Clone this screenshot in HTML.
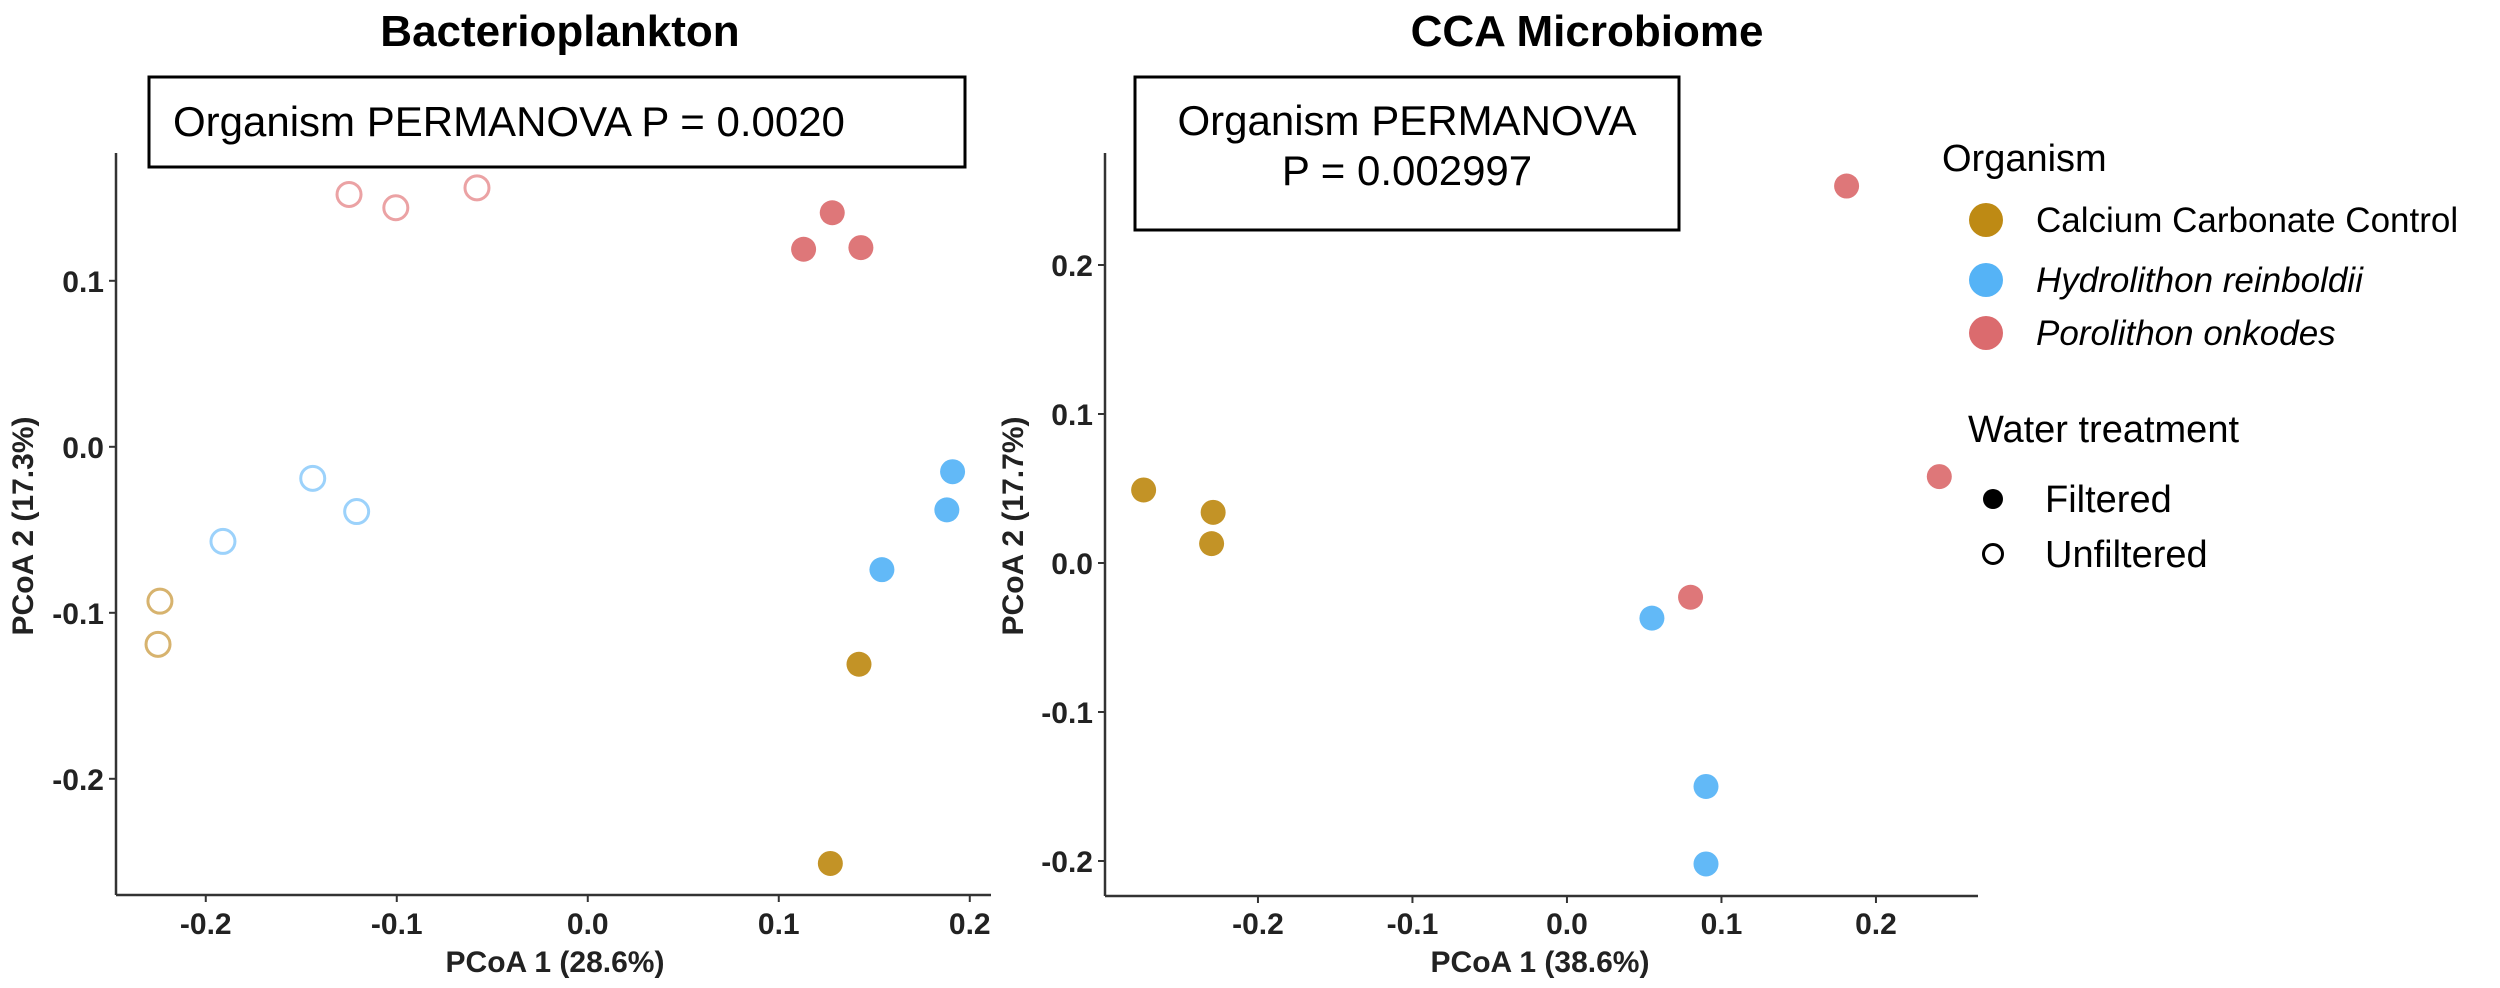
<!DOCTYPE html>
<html><head><meta charset="utf-8"><style>
body{margin:0;background:#fff;}
svg{display:block;font-family:"Liberation Sans",Arial,sans-serif;}
</style></head><body>
<svg id="chart" width="2500" height="988" viewBox="0 0 2500 988"></svg>
<script>
// Bacterioplankton panel data
const bpX = [-0.125,-0.1005,-0.058, 0.113,0.128,0.143, -0.144,-0.121,-0.191, 0.191,0.188,0.154, -0.224,-0.225, 0.142,0.127];
const bpY = [0.152,0.144,0.156, 0.119,0.141,0.120, -0.019,-0.039,-0.057, -0.015,-0.038,-0.074, -0.093,-0.119, -0.131,-0.251];
const bpOrg = ["P","P","P","P","P","P","H","H","H","H","H","H","C","C","C","C"];
const bpFilt = [0,0,0,1,1,1,0,0,0,1,1,1,0,0,1,1];
const bpXTicks = [-0.2,-0.1,0.0,0.1,0.2];
const bpYTicks = [0.1,0.0,-0.1,-0.2];
// CCA microbiome panel data
const ccaX = [-0.274,-0.229,-0.230, 0.181,0.241,0.080, 0.055,0.090,0.090];
const ccaY = [0.049,0.034,0.013, 0.253,0.058,-0.023, -0.037,-0.150,-0.202];
const ccaOrg = ["C","C","C","P","P","P","H","H","H"];
const ccaFilt = [1,1,1,1,1,1,1,1,1];
const ccaXTicks = [-0.2,-0.1,0.0,0.1,0.2];
const ccaYTicks = [0.2,0.1,0.0,-0.1,-0.2];

const NS="http://www.w3.org/2000/svg";
const svg=document.getElementById('chart');
const fill={C:"#BE8A14",H:"#55B3F6",P:"#DB6B6E"};
const ring={C:"#D7B36E",H:"#9CD2FB",P:"#EBA2A4"};
function el(t,a,p){const e=document.createElementNS(NS,t);for(const k in a)e.setAttribute(k,a[k]);(p||svg).appendChild(e);return e;}
function fmt(v){return v.toFixed(1).replace("-0.0","0.0");}

function panel(cfg){
  const g=el('g',{});
  
  
  const sx=v=>cfg.x0+(v-cfg.xmin)*cfg.kx;
  const sy=v=>cfg.y0-(v-cfg.ymin)*cfg.ky;
  const L=cfg.x0,B=cfg.y0;
  const xa=el('line',{x1:L,y1:B,x2:cfg.xEnd,y2:B,stroke:"#333","stroke-width":2.5},g);
  
  
  const ya=el('line',{x1:L,y1:B,x2:L,y2:153,stroke:"#333","stroke-width":2.5},g);
  
  
  cfg.xt.forEach(v=>{
    el('line',{x1:sx(v),y1:B,x2:sx(v),y2:B+7,stroke:"#333","stroke-width":2},g);
    const t=el('text',{x:sx(v),y:934,"text-anchor":"middle","font-size":30,"font-weight":"bold",fill:"#222"},g);
    t.textContent=fmt(v);
    
    
  });
  cfg.yt.forEach(v=>{
    el('line',{x1:L-7,y1:sy(v),x2:L,y2:sy(v),stroke:"#333","stroke-width":2},g);
    const t=el('text',{x:L-12,y:sy(v)+11,"text-anchor":"end","font-size":30,"font-weight":"bold",fill:"#222"},g);
    t.textContent=fmt(v);
    
    
  });
  cfg.px.forEach((v,i)=>{
    const o=cfg.org[i];
    let c;
    if(cfg.filt[i]) c=el('circle',{cx:sx(v),cy:sy(cfg.py[i]),r:12.5,fill:fill[o],"fill-opacity":0.92},g);
    else c=el('circle',{cx:sx(v),cy:sy(cfg.py[i]),r:12,fill:"none",stroke:ring[o],"stroke-width":3},g);
    
    
  });
}
panel({name:'bacterioplankton-panel',x0:116,y0:895,xmin:-0.247,kx:1910,ymin:-0.270,ky:1660,xEnd:991,
  xt:bpXTicks,yt:bpYTicks,px:bpX,py:bpY,org:bpOrg,filt:bpFilt});
panel({name:'cca-panel',x0:1105,y0:896,xmin:-0.299,kx:1545,ymin:-0.2235,ky:1490,xEnd:1978,
  xt:ccaXTicks,yt:ccaYTicks,px:ccaX,py:ccaY,org:ccaOrg,filt:ccaFilt});
</script>
<svg style="position:absolute;left:0;top:0" width="2500" height="988">
  <text x="560" y="46" text-anchor="middle" font-size="44" font-weight="bold">Bacterioplankton</text>
  <text x="1587" y="46" text-anchor="middle" font-size="44" font-weight="bold">CCA Microbiome</text>
  <rect x="149" y="77" width="816" height="90" fill="#fff" stroke="#000" stroke-width="3"/>
  <text x="173" y="136" font-size="42">Organism PERMANOVA P = 0.0020</text>
  <rect x="1135" y="77" width="544" height="153" fill="#fff" stroke="#000" stroke-width="3"/>
  <text x="1407" y="135" text-anchor="middle" font-size="42">Organism PERMANOVA</text>
  <text x="1407" y="185" text-anchor="middle" font-size="42">P = 0.002997</text>
  <text x="555" y="972" text-anchor="middle" font-size="30" font-weight="bold" fill="#222">PCoA 1 (28.6%)</text>
  <text x="1540" y="972" text-anchor="middle" font-size="30" font-weight="bold" fill="#222">PCoA 1 (38.6%)</text>
  <text transform="translate(33,526) rotate(-90)" text-anchor="middle" font-size="30" font-weight="bold" fill="#222">PCoA 2 (17.3%)</text>
  <text transform="translate(1023,526) rotate(-90)" text-anchor="middle" font-size="30" font-weight="bold" fill="#222">PCoA 2 (17.7%)</text>
  <g>
    <text x="1942" y="171" font-size="38">Organism</text>
    <circle cx="1986" cy="220" r="17" fill="#BE8A14"/>
    <text x="2036" y="232" font-size="35">Calcium Carbonate Control</text>
    <circle cx="1986" cy="280" r="17" fill="#55B3F6"/>
    <text x="2036" y="292" font-size="35" font-style="italic">Hydrolithon reinboldii</text>
    <circle cx="1986" cy="333" r="17" fill="#DB6B6E"/>
    <text x="2036" y="345" font-size="35" font-style="italic">Porolithon onkodes</text>
    <text x="1968" y="442" font-size="38">Water treatment</text>
    <circle cx="1993" cy="499" r="10" fill="#000"/>
    <text x="2045" y="512" font-size="38">Filtered</text>
    <circle cx="1993" cy="554" r="9.5" fill="none" stroke="#000" stroke-width="3"/>
    <text x="2045" y="567" font-size="38">Unfiltered</text>
  </g>
</svg>
</body></html>
